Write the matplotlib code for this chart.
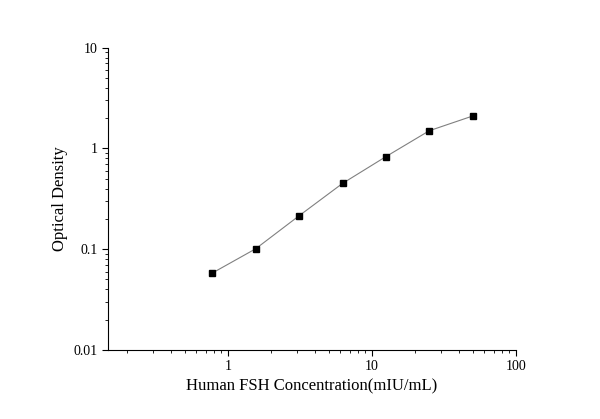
import numpy as np
import matplotlib
matplotlib.use('Agg')
import matplotlib.pyplot as plt
from matplotlib.ticker import FixedLocator, FixedFormatter, LogLocator, NullFormatter

plt.rcParams['font.family'] = ['Liberation Serif', 'DejaVu Serif']

conc = [0.78, 1.56, 3.125, 6.25, 12.5, 25, 50]
od = [0.058, 0.101, 0.215, 0.45, 0.83, 1.5, 2.1]

fig = plt.figure(figsize=(6, 4.19), dpi=100)
ax = fig.add_axes([0.18, 0.165, 0.68, 0.721])

ax.plot(conc, od, color='#808080', lw=0.8)
ax.plot(conc, od, 's', color='black', ms=5)

ax.set_xscale('log')
ax.set_yscale('log')
ax.set_xlim(0.147, 100)
ax.set_ylim(0.01, 10)

ax.xaxis.set_major_locator(FixedLocator([1, 10, 100]))
ax.xaxis.set_major_formatter(FixedFormatter(['1', '10', '100']))
ax.yaxis.set_major_locator(FixedLocator([0.01, 0.1, 1, 10]))
ax.yaxis.set_major_formatter(FixedFormatter(['0.01', '0.1', '1', '10']))
ax.xaxis.set_minor_locator(LogLocator(subs=np.arange(2, 10)))
ax.yaxis.set_minor_locator(LogLocator(subs=np.arange(2, 10)))
ax.xaxis.set_minor_formatter(NullFormatter())
ax.yaxis.set_minor_formatter(NullFormatter())

for s in ['top', 'right']:
    ax.spines[s].set_visible(False)
ax.tick_params(which='major', direction='out', length=4, labelsize=10)
ax.tick_params(which='minor', direction='out', length=2)

ax.set_xlabel('Human FSH Concentration(mIU/mL)', fontsize=12)
ax.set_ylabel('Optical Density', fontsize=12)

fig.savefig('out.png', dpi=100)
